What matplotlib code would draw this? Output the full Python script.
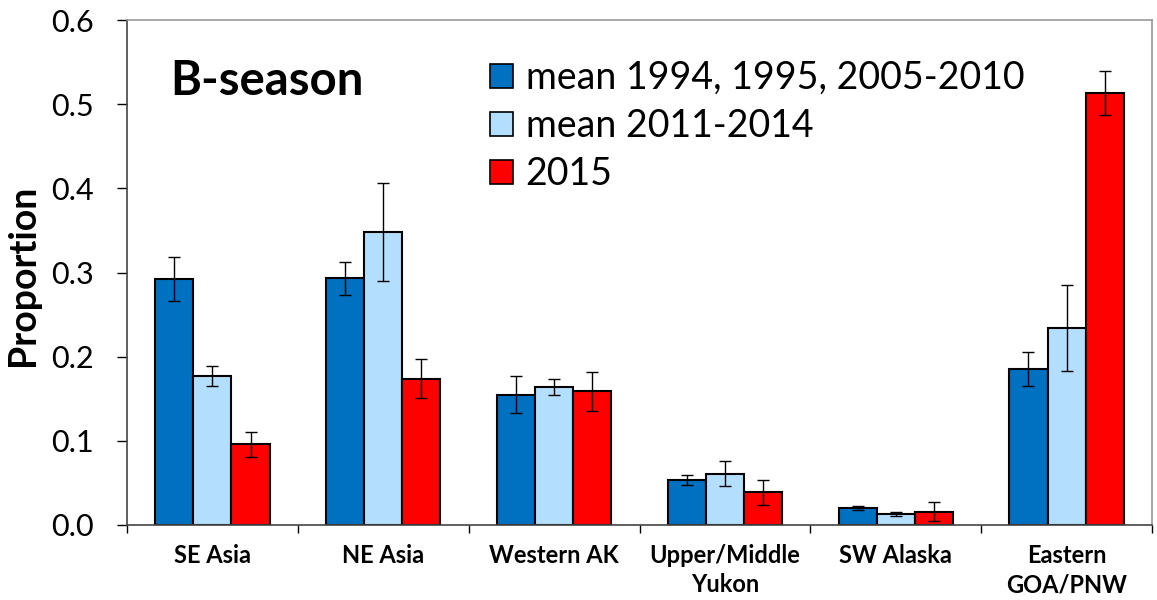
import numpy as np
import matplotlib
matplotlib.use("Agg")
import matplotlib.pyplot as plt
from matplotlib.ticker import FixedLocator

plt.rcParams['font.family'] = ['Lato', 'DejaVu Sans']

# 数据
categories = ["SE Asia", "NE Asia", "Western AK", "Upper/Middle\nYukon", "SW Alaska", "Eastern\nGOA/PNW"]
series_labels = ["mean 1994, 1995, 2005-2010", "mean 2011-2014", "2015"]

mean_early = [0.292, 0.293, 0.155, 0.054, 0.020, 0.185]
mean_early_err = [0.026, 0.020, 0.022, 0.006, 0.0025, 0.020]
mean_recent = [0.177, 0.348, 0.164, 0.061, 0.013, 0.234]
mean_recent_err = [0.012, 0.058, 0.010, 0.015, 0.0025, 0.051]
y2015 = [0.096, 0.174, 0.159, 0.039, 0.016, 0.513]
y2015_err = [0.015, 0.023, 0.023, 0.015, 0.011, 0.026]

yticks = [0.0, 0.1, 0.2, 0.3, 0.4, 0.5, 0.6]
ytick_labels = ["0.0", "0.1", "0.2", "0.3", "0.4", "0.5", "0.6"]

colors = ["#0070C0", "#B4DEFE", "#FF0000"]

# 画图
fig = plt.figure(figsize=(11.57, 6.0), dpi=100)
ax = fig.add_axes([127/1157, 75/600, (1152-127)/1157, (525-20)/600])

x = np.arange(len(categories))
w = 0.223
all_vals = [mean_early, mean_recent, y2015]
all_errs = [mean_early_err, mean_recent_err, y2015_err]
for i in range(3):
    ax.bar(x + (i - 1) * w, all_vals[i], width=w, color=colors[i],
           edgecolor="black", linewidth=1.5, label=series_labels[i], zorder=2)
    ax.errorbar(x + (i - 1) * w, all_vals[i], yerr=all_errs[i], fmt="none",
                ecolor="black", elinewidth=1.0, capsize=4.5, capthick=1.0, zorder=3)

ax.set_xlim(-0.5, len(categories) - 0.5)
ax.set_ylim(0, 0.6)
ax.set_yticks(yticks)
ax.set_yticklabels(ytick_labels, fontsize=22)
ax.tick_params(axis="y", direction="out", length=7, width=1, pad=17)

ax.set_xticks(x)
ax.set_xticklabels(categories, fontsize=17, fontweight="bold", linespacing=1.3)
ax.xaxis.set_minor_locator(FixedLocator(np.arange(-0.5, len(categories), 1.0)))
ax.tick_params(axis="x", which="major", length=0, pad=14)
ax.tick_params(axis="x", which="minor", direction="out", length=6, width=1)

ax.set_ylabel("Proportion", fontsize=27, fontweight="bold")
ax.yaxis.set_label_coords(-0.085, 0.495)

for s in ["left", "bottom"]:
    ax.spines[s].set_color("#444444")
    ax.spines[s].set_linewidth(1.2)
for s in ["top", "right"]:
    ax.spines[s].set_color("#999999")
    ax.spines[s].set_linewidth(1.2)

ax.text(170/1157, 1 - 81/600, "B-season", transform=fig.transFigure,
        fontsize=34, fontweight="bold", va="center", ha="left")

leg = ax.legend(loc="upper left", bbox_to_anchor=(475/1157, 1 - 45/600),
                bbox_transform=fig.transFigure, frameon=False, fontsize=27,
                handlelength=0.6, handleheight=0.6, handletextpad=0.35,
                labelspacing=0.32, borderaxespad=0)
for h in leg.legend_handles:
    h.set_linewidth(1.2)

fig.savefig("out.png", dpi=100)
